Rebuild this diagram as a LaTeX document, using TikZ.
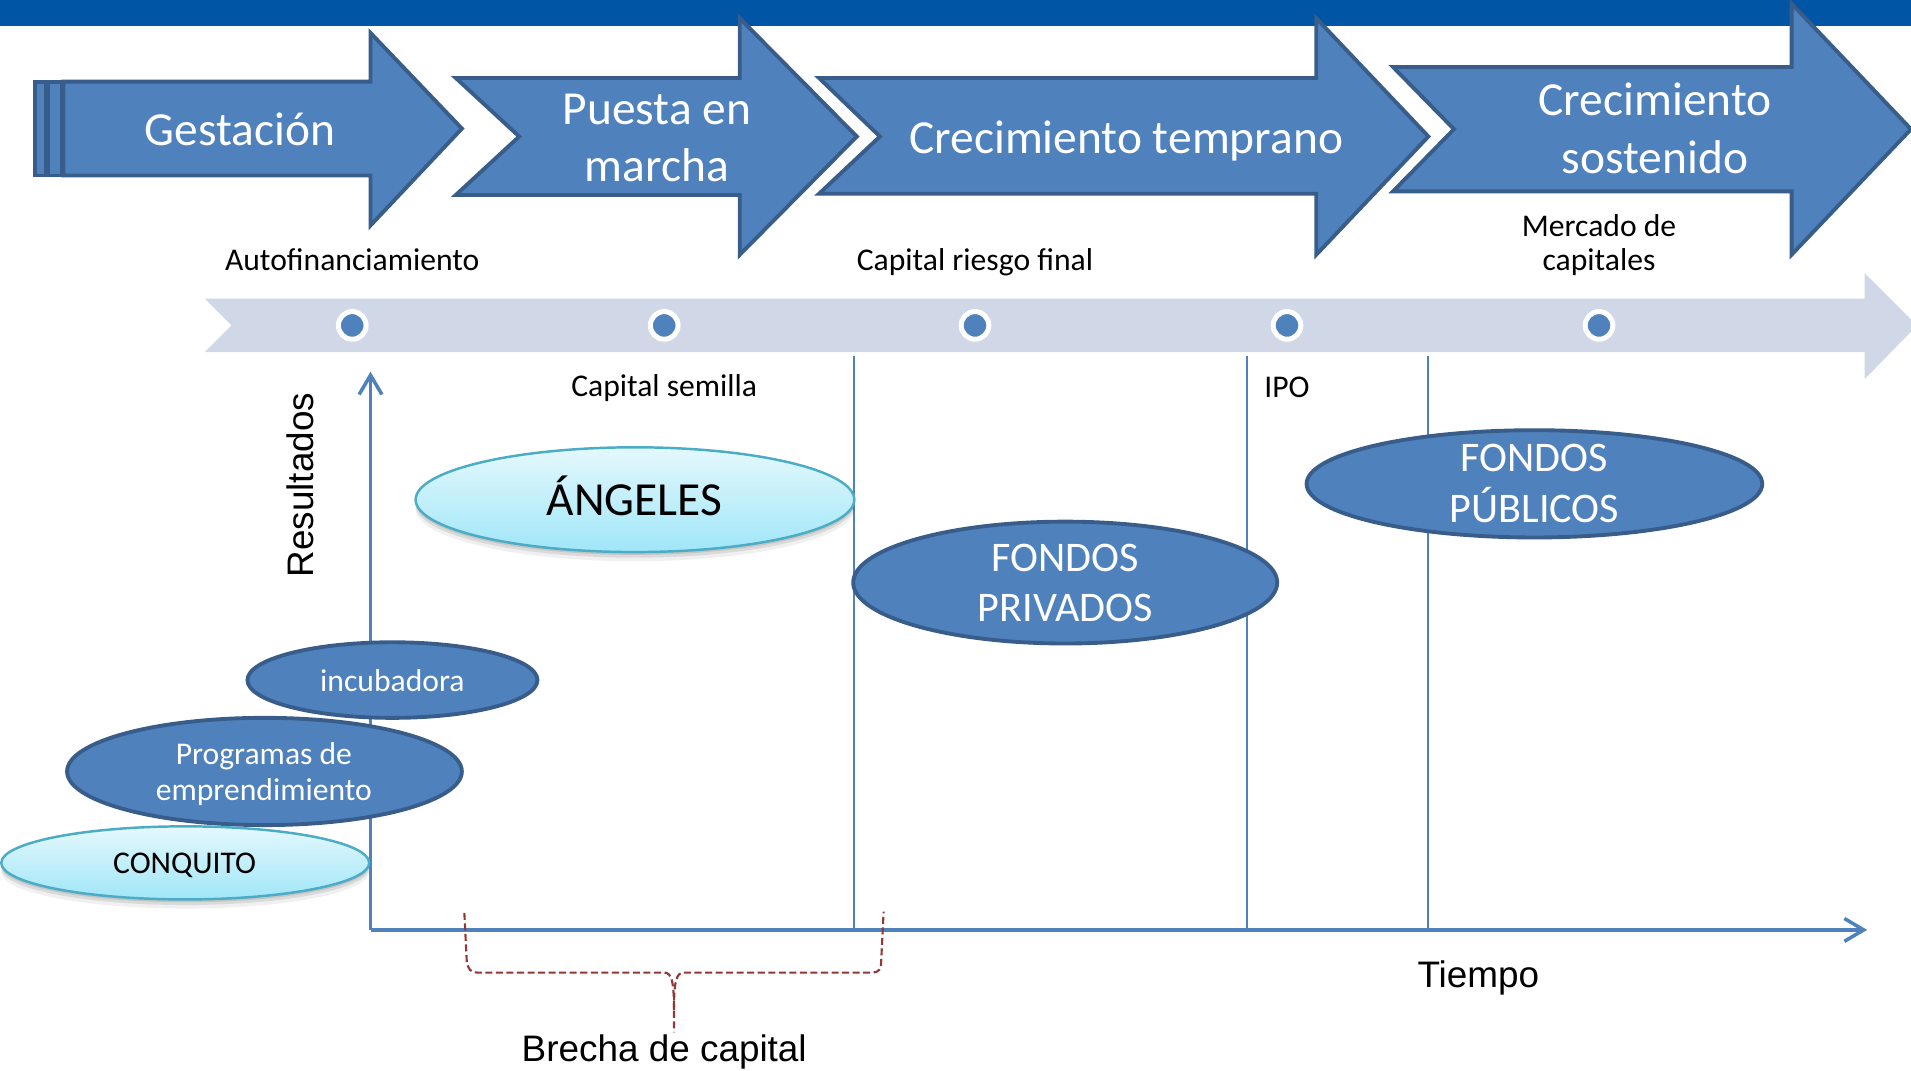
\documentclass[tikz,border=0pt]{standalone}
\usepackage{fontspec}
\setmainfont{Carlito}
\newfontfamily\arialfont{Liberation Sans}
\usetikzlibrary{arrows.meta,shapes.geometric,shadows}
\definecolor{topblue}{HTML}{0055A5}
\definecolor{arrfill}{HTML}{4F81BD}
\definecolor{arrline}{HTML}{385D8A}
\definecolor{bandcol}{HTML}{D0D8E8}
\definecolor{lightA}{HTML}{E4F8FD}
\definecolor{lightB}{HTML}{A0E6F8}
\definecolor{lightline}{HTML}{4BACC6}
\definecolor{bracecol}{HTML}{943634}
\begin{document}
\begin{tikzpicture}[x=0.012188cm,y=-0.012188cm,
  stagearrow/.style={fill=arrfill,draw=arrline,line width=1.1pt,line join=miter},
  stagetext/.style={text=white,font=\fontsize{13.5}{16}\selectfont,anchor=base,inner sep=0},
  smalltext/.style={font=\fontsize{9}{10}\selectfont,anchor=base,inner sep=0},
  elltext/.style={text=white,font=\fontsize{12}{14}\selectfont,anchor=base,inner sep=0},
  elltextsmall/.style={text=white,font=\fontsize{9}{10}\selectfont,anchor=base,inner sep=0},
  arialtext/.style={font=\arialfont\fontsize{10.5}{12}\selectfont,anchor=base,inner sep=0},
  darkell/.style={ellipse,fill=arrfill,draw=arrline,line width=1.1pt,inner sep=0},
  lightell/.style={ellipse,top color=lightA,bottom color=lightB,draw=lightline,line width=0.7pt,inner sep=0,
     general shadow={shadow yshift=-2.6pt,fill=black,opacity=0.06},
     general shadow={shadow yshift=-1.6pt,fill=black,opacity=0.09},
     general shadow={shadow yshift=-0.8pt,fill=black,opacity=0.10}},
  dotnode/.style={circle,fill=arrfill,draw=white,line width=1.42pt,minimum size=0.2767cm,inner sep=0},
  sepline/.style={draw=arrfill,line width=0.6pt},
  axisline/.style={draw=arrfill,line width=1pt,-{Straight Barb[length=5.5pt,width=6.5pt,line width=1pt]}},
  bracketline/.style={draw=bracecol,line width=0.6pt,dash pattern=on 2pt off 1pt}
]
\useasboundingbox (0,0) rectangle (1568,878);
\clip (0,0) rectangle (1568,878);
% top bar
\fill[topblue] (0,0) rectangle (1568,21);
% stage arrows
\draw[stagearrow] (29,67) rectangle (37.5,144);
\draw[stagearrow] (39.5,67) rectangle (50.5,144);
\draw[stagearrow] (52,67) -- (304,67) -- (304,27) -- (379,105.5) -- (304,185) -- (304,144) -- (52,144) -- cycle;
\draw[stagearrow] (374,64) -- (607,64) -- (607,15) -- (703,112) -- (607,209) -- (607,160) -- (374,160) -- (426,112) -- cycle;
\draw[stagearrow] (672,64) -- (1080,64) -- (1080,15) -- (1172,112) -- (1080,209) -- (1080,159) -- (672,159) -- (722,112) -- cycle;
\draw[stagearrow] (1143,55) -- (1470,55) -- (1470,3) -- (1568,106) -- (1470,209) -- (1470,157) -- (1143,157) -- (1193,106) -- cycle;
\node[stagetext] (t1) at (197,119) {Gestación};
\node[stagetext] (t2a) at (539,102) {Puesta en};
\node[stagetext] (t2b) at (539,149) {marcha};
\node[stagetext] (t3) at (924,126) {Crecimiento temprano};
\node[stagetext] (t4a) at (1358,95) {Crecimiento};
\node[stagetext] (t4b) at (1358,142) {sostenido};
% timeline band
\fill[bandcol] (168,245) -- (1530,245) -- (1530,224) -- (1573,267) -- (1530,311) -- (1530,289) -- (168,289) -- (190,267) -- cycle;
\node[dotnode] (d1) at (289,267) {};
\node[dotnode] (d2) at (545,267) {};
\node[dotnode] (d3) at (800,267) {};
\node[dotnode] (d4) at (1056,267) {};
\node[dotnode] (d5) at (1312,267) {};
\node[smalltext] (l1) at (289,222) {Autofinanciamiento};
\node[smalltext] (l3) at (800,222) {Capital riesgo final};
\node[smalltext] (l5a) at (1312,194) {Mercado de};
\node[smalltext] (l5b) at (1312,222) {capitales};
\node[smalltext] (l2) at (545,325.5) {Capital semilla};
\node[smalltext] (l4) at (1056,326) {IPO};
% separators
\coordinate (s1t) at (701,292); \coordinate (s1b) at (701,763);
\coordinate (s2t) at (1023,292); \coordinate (s2b) at (1023,763);
\coordinate (s3t) at (1172,292); \coordinate (s3b) at (1172,763);
\draw[sepline] (s1t) -- (s1b);
\draw[sepline] (s2t) -- (s2b);
\draw[sepline] (s3t) -- (s3b);
% axes
\coordinate (O) at (304,763);
\coordinate (xend) at (1532,763);
\coordinate (yend) at (304,305);
\draw[axisline] (O) -- (xend);
\draw[axisline,line width=0.85pt] (O) -- (yend);
\node[arialtext,rotate=90] (res) at (257,398) {Resultados};
\node[arialtext] (tiempo) at (1213,810) {Tiempo};
% ellipses
\node[lightell,minimum width=4.388cm,minimum height=1.048cm] (angeles) at (521,410) {};
\node[font=\fontsize{13.5}{16}\selectfont,anchor=base,inner sep=0] (angelesT) at (520.5,422.6) {ÁNGELES};
\node[darkell,minimum width=4.241cm,minimum height=1.219cm] (privados) at (874,478) {};
\node[elltext] (privT1) at (874,469) {FONDOS};
\node[elltext] (privT2) at (874,510) {PRIVADOS};
\node[darkell,minimum width=4.558cm,minimum height=1.073cm] (publicos) at (1259,397) {};
\node[elltext] (pubT1) at (1259,387) {FONDOS};
\node[elltext] (pubT2) at (1259,429) {PÚBLICOS};
\node[darkell,minimum width=2.901cm,minimum height=0.756cm] (incub) at (322,558) {};
\node[elltextsmall] (incubT) at (322,567) {incubadora};
\node[darkell,minimum width=3.949cm,minimum height=1.073cm] (prog) at (217,633) {};
\node[elltextsmall] (progT1) at (216.5,627) {Programas de};
\node[elltextsmall] (progT2) at (216.5,657) {emprendimiento};
\node[lightell,minimum width=3.681cm,minimum height=0.731cm] (conq) at (152,708) {};
\node[font=\fontsize{9}{10}\selectfont,anchor=base,inner sep=0] (conqT) at (151.5,716.5) {CONQUITO};
% bracket
\coordinate (bl) at (381,749);
\coordinate (br) at (725,748);
\coordinate (bm) at (553,829);
\coordinate (bb) at (553,847);
\draw[bracketline] (bl) -- (383,789) .. controls (384,795) and (386,798) .. (392,798) -- (545,798) .. controls (551,798) and (553,805) .. (bm) -- (bb);
\draw[bracketline] (bm) .. controls (553,805) and (555,798) .. (561,798) -- (716,798) .. controls (721,798) and (723,795) .. (723,789) -- (br);
\node[arialtext] (brecha) at (545,871) {Brecha de capital};
\end{tikzpicture}
\end{document}
